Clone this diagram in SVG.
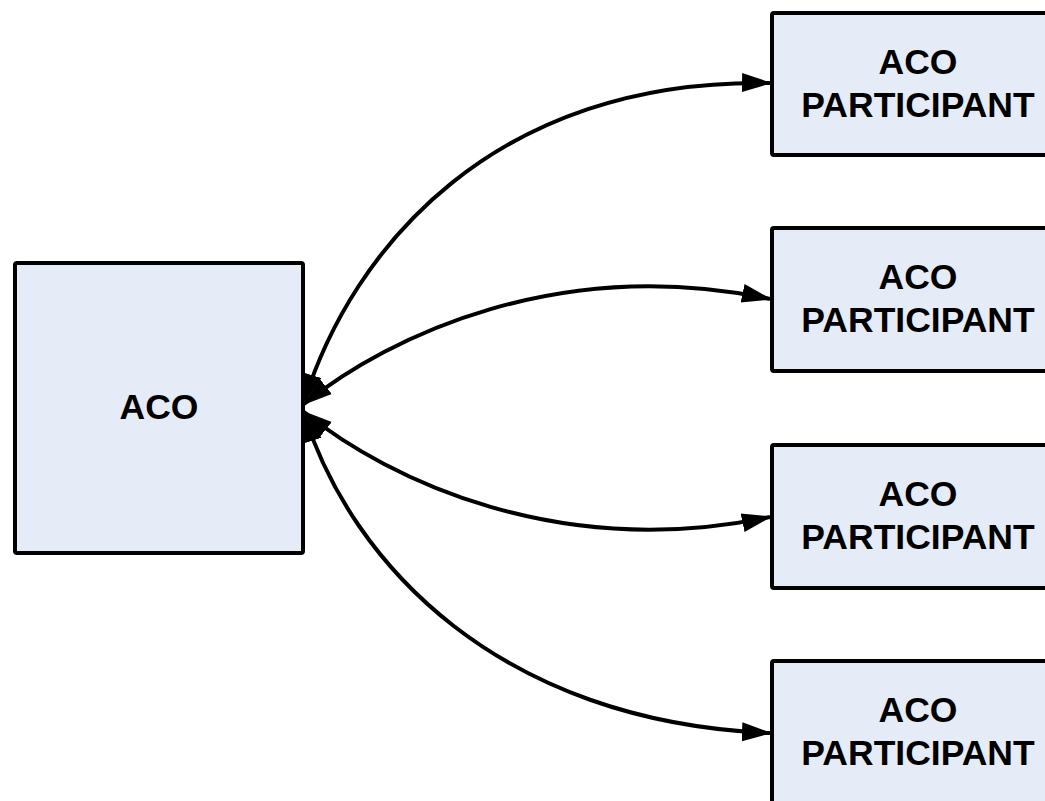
<svg xmlns="http://www.w3.org/2000/svg" width="1045" height="801" viewBox="0 0 1045 801">
  <style>
    .box { fill: #E5ECF7; stroke: #000; stroke-width: 4; }
    .lbl { font-family: "Liberation Sans", Arial, sans-serif; font-weight: bold; font-size: 35.5px; fill: #000; text-anchor: middle; }
    .conn { fill: none; stroke: #000; stroke-width: 4; marker-start: url(#ah); marker-end: url(#ah); }
  </style>
  <defs>
    <marker id="ah" markerUnits="userSpaceOnUse" markerWidth="30" markerHeight="22" viewBox="0 0 30 22" refX="28" refY="11" orient="auto-start-reverse">
      <path d="M0,1.5 L30,11 L0,20.5 z" fill="#000"/>
    </marker>
  </defs>
  <rect width="1045" height="801" fill="#fff"/>
  <g id="connectors">
    <path class="conn" d="M304,402 C352,248 495,78 770,83"/>
    <path class="conn" d="M304,404 C390,335 560,255 770,299"/>
    <path class="conn" d="M304,412 C390,481 560,561 770,517"/>
    <path class="conn" d="M304,414 C352,565 500,722 770,733"/>
  </g>
  <g id="aco">
    <rect class="box" x="15" y="263" width="288" height="290" rx="2"/>
    <text class="lbl" x="159" y="419">ACO</text>
  </g>
  <g id="participant1">
    <rect class="box" x="772" y="13" width="292" height="142" rx="2"/>
    <text class="lbl" x="918" y="74">ACO</text>
    <text class="lbl" x="918" y="117">PARTICIPANT</text>
  </g>
  <g id="participant2">
    <rect class="box" x="772" y="228" width="292" height="143" rx="2"/>
    <text class="lbl" x="918" y="289">ACO</text>
    <text class="lbl" x="918" y="332">PARTICIPANT</text>
  </g>
  <g id="participant3">
    <rect class="box" x="772" y="445" width="292" height="143" rx="2"/>
    <text class="lbl" x="918" y="506">ACO</text>
    <text class="lbl" x="918" y="549">PARTICIPANT</text>
  </g>
  <g id="participant4">
    <rect class="box" x="772" y="661" width="292" height="160" rx="2"/>
    <text class="lbl" x="918" y="722">ACO</text>
    <text class="lbl" x="918" y="765">PARTICIPANT</text>
  </g>
</svg>
